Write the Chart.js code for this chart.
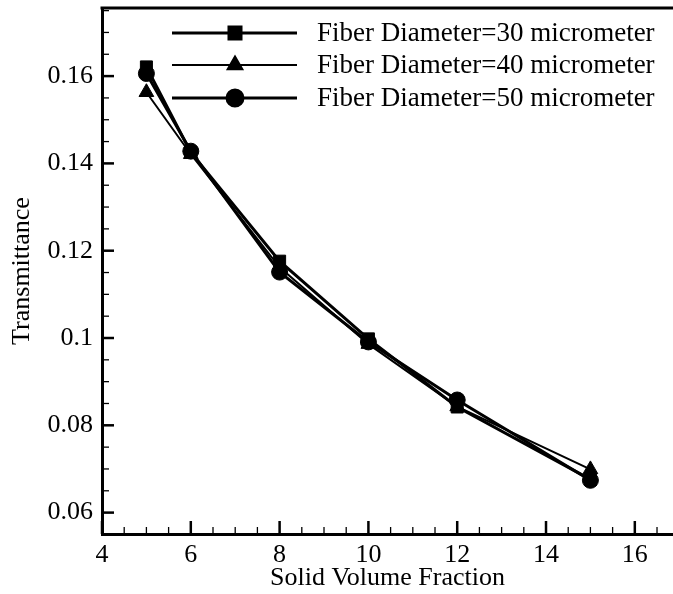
<!DOCTYPE html>
<html><head><meta charset="utf-8">
<script src="https://cdn.jsdelivr.net/npm/chart.js@4"></script>
<style>html,body{margin:0;padding:0;background:#fff}#wrap{width:673px;height:594px}</style>
</head><body><div id="wrap"><canvas id="c" width="673" height="594"></canvas></div>
<script>
// ---- data ----
const fractions = [5, 6, 8, 10, 12, 15];
const d30 = [0.1621, 0.1425, 0.1176, 0.0998, 0.0842, 0.0676];
const d40 = [0.1563, 0.1421, 0.1162, 0.0986, 0.0843, 0.0699];
const d50 = [0.1606, 0.1428, 0.1151, 0.0991, 0.0858, 0.0674];
const seriesNames = ['Fiber Diameter=30 micrometer', 'Fiber Diameter=40 micrometer', 'Fiber Diameter=50 micrometer'];
const xTicks = [4, 6, 8, 10, 12, 14, 16];
const xTickLabels = ['4', '6', '8', '10', '12', '14', '16'];
const yTicks = [0.06, 0.08, 0.1, 0.12, 0.14, 0.16];
const yTickLabels = ['0.06', '0.08', '0.1', '0.12', '0.14', '0.16'];
const xTitle = 'Solid Volume Fraction';
const yTitle = 'Transmittance';

const FONT = 'Liberation Serif';

function pts(ys){ return fractions.map((x,i)=>({x:x, y:ys[i]})); }

const frame = {
  id: 'frame',
  afterDatasetsDraw(chart){
    const ctx = chart.ctx, a = chart.chartArea;
    const xs = chart.scales.x, ys = chart.scales.y;
    ctx.save();
    ctx.strokeStyle = '#000';
    // top line
    ctx.lineWidth = 3;
    ctx.beginPath(); ctx.moveTo(a.left - 1.5, a.top); ctx.lineTo(a.right, a.top); ctx.stroke();
    // x ticks (inward)
    for (let k = Math.ceil(xs.min*2 - 1e-6); k/2 <= xs.max + 1e-9; k++) {
      const vv = k/2;
      const px = xs.getPixelForValue(vv);
      const major = k % 4 === 0;
      ctx.lineWidth = major ? 2.5 : 1.3;
      ctx.beginPath(); ctx.moveTo(px, a.bottom); ctx.lineTo(px, a.bottom - (major ? 13 : 7)); ctx.stroke();
    }
    // y ticks (inward)
    for (let k = Math.ceil(ys.min/0.005 - 1e-6); k*0.005 <= ys.max + 1e-9; k++) {
      const v = k*0.005;
      const py = ys.getPixelForValue(v);
      const major = k % 4 === 0;
      ctx.lineWidth = major ? 2.5 : 1.3;
      ctx.beginPath(); ctx.moveTo(a.left, py); ctx.lineTo(a.left + (major ? 12 : 7), py); ctx.stroke();
    }
    // legend
    const rows = [33, 65, 98];
    chart.data.datasets.forEach((ds, i) => {
      const y = rows[i];
      ctx.lineWidth = ds.borderWidth;
      ctx.strokeStyle = '#000';
      ctx.beginPath(); ctx.moveTo(172, y); ctx.lineTo(297, y); ctx.stroke();
      Chart.helpers.drawPoint(ctx, {pointStyle: ds.pointStyle, radius: ds.pointRadius, borderWidth: 1, rotation: 0}, 235, y);
      ctx.fillStyle = '#000';
      ctx.fill();
      ctx.font = '27px "' + FONT + '"';
      ctx.textBaseline = 'middle';
      ctx.textAlign = 'left';
      ctx.fillText(ds.label, 317, y + 1);
    });
    ctx.restore();
  }
};

const common = { borderColor: '#000', backgroundColor: '#000', pointBackgroundColor: '#000', pointBorderColor: '#000', pointBorderWidth: 1, tension: 0, fill: false, clip: false };

new Chart(document.getElementById('c'), {
  type: 'line',
  data: {
    datasets: [
      Object.assign({}, common, { label: seriesNames[0], data: pts(d30), pointStyle: 'rect', pointRadius: 8.5, borderWidth: 3, order: 3 }),
      Object.assign({}, common, { label: seriesNames[1], data: pts(d40), pointStyle: 'triangle', pointRadius: 8.5, borderWidth: 2, order: 2 }),
      Object.assign({}, common, { label: seriesNames[2], data: pts(d50), pointStyle: 'circle', pointRadius: 8, borderWidth: 3, order: 1 })
    ]
  },
  options: {
    responsive: false,
    animation: false,
    devicePixelRatio: 1,
    layout: { autoPadding: false, padding: { top: 8, right: 0, left: 0, bottom: 0 } },
    plugins: { legend: { display: false }, tooltip: { enabled: false } },
    scales: {
      x: {
        type: 'linear', min: 4, max: 16.86,
        afterBuildTicks: s => { s.ticks = xTicks.map(v => ({ value: v })); },
        afterFit: s => { s.height = 60; s.paddingLeft = 0; s.paddingRight = 0; },
        grid: { display: false, drawTicks: false },
        border: { display: true, color: '#000', width: 3 },
        ticks: { color: '#000', font: { family: FONT, size: 26 }, padding: 6, maxRotation: 0,
          callback: (v) => { const i = xTicks.indexOf(v); return i >= 0 ? xTickLabels[i] : ''; } },
        title: { display: true, text: xTitle, color: '#000', font: { family: FONT, size: 26, lineHeight: 1.1 }, padding: { top: 0, bottom: 2 } }
      },
      y: {
        type: 'linear', min: 0.0551, max: 0.1756,
        afterBuildTicks: s => { s.ticks = yTicks.map(v => ({ value: v })); },
        afterFit: s => { s.width = 102; s.paddingTop = 0; s.paddingBottom = 0; },
        grid: { display: false, drawTicks: false },
        border: { display: true, color: '#000', width: 3 },
        ticks: { color: '#000', font: { family: FONT, size: 26 }, padding: 9,
          callback: (v) => { const i = yTicks.findIndex(t => Math.abs(t - v) < 1e-9); return i >= 0 ? yTickLabels[i] : ''; } },
        title: { display: true, text: yTitle, color: '#000', font: { family: FONT, size: 26, lineHeight: 1.1 }, padding: { top: 8, bottom: 0 } }
      }
    }
  },
  plugins: [frame]
});
</script>
</body></html>
